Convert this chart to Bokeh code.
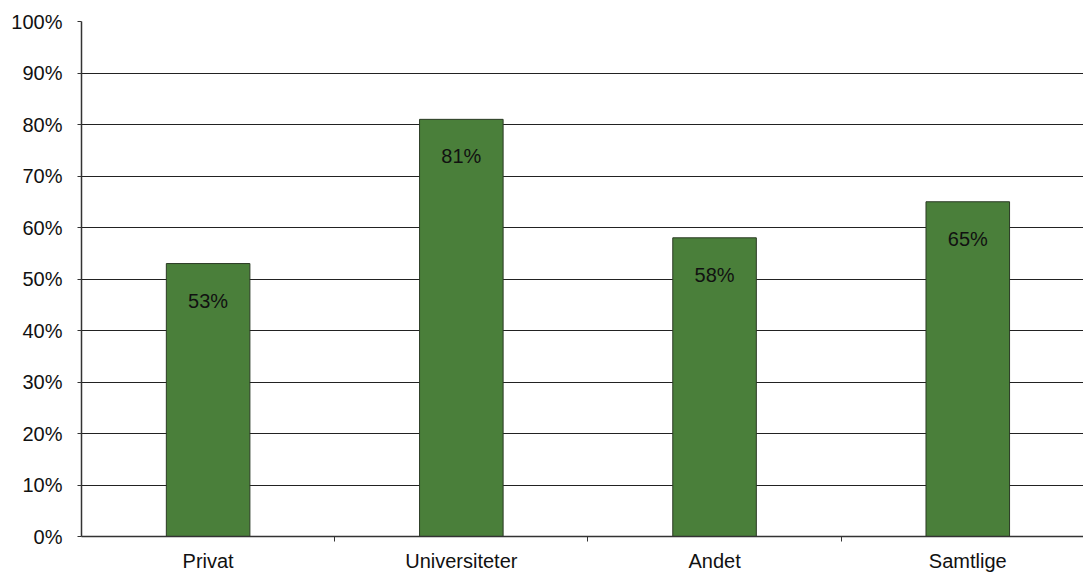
from bokeh.plotting import figure
from bokeh.models import Range1d, FixedTicker, NumeralTickFormatter, ColumnDataSource
from bokeh.embed import file_html
from bokeh.resources import INLINE
from bokeh.core.properties import value

categories = ["Privat", "Universiteter", "Andet", "Samtlige"]
shares = [0.53, 0.81, 0.58, 0.65]
y_ticks = [0.0, 0.1, 0.2, 0.3, 0.4, 0.5, 0.6, 0.7, 0.8, 0.9, 1.0]

FONT = "Liberation Sans"
BAR_COLOR = "#4a7f3a"

xs = [i + 0.5 for i in range(len(categories))]
src = ColumnDataSource(dict(
    x=xs,
    top=shares,
    label=[f"{round(v * 100)}%" for v in shares],
))

p = figure(width=1083, height=574, output_backend="svg", toolbar_location=None,
           x_range=Range1d(0, 3.957), y_range=Range1d(0, 1.0),
           min_border_left=81, min_border_right=0, min_border_top=21,
           min_border_bottom=30)
p.outline_line_color = None
p.background_fill_color = "white"
p.border_fill_color = "white"

p.vbar(x="x", top="top", width=0.33, bottom=0, source=src,
       fill_color=BAR_COLOR, line_color="#2b3a24", line_width=1)

p.text(x="x", y="top", text="label", source=src, text_align="center",
       text_baseline="middle", y_offset=37, text_font=value(FONT),
       text_font_size="20px", text_color="#111111")

# y axis: percent ticks, grid lines on every tick
p.yaxis.ticker = FixedTicker(ticks=y_ticks)
p.yaxis.formatter = NumeralTickFormatter(format="0%")
p.yaxis.major_label_text_font = FONT
p.yaxis.major_label_text_font_size = "20px"
p.yaxis.major_label_text_color = "#111111"
p.yaxis.major_tick_out = 4
p.yaxis.major_tick_in = 0
p.yaxis.minor_tick_line_color = None
p.yaxis.major_label_standoff = 15
p.yaxis.axis_line_color = "#333333"
p.yaxis.major_tick_line_color = "#333333"
p.yaxis.axis_line_width = 1.5

p.ygrid.ticker = FixedTicker(ticks=y_ticks)
p.ygrid.grid_line_color = "#222222"
p.ygrid.grid_line_width = 1
p.xgrid.grid_line_color = None

# x axis: labels centered on bars, tick marks between categories
p.xaxis.ticker = FixedTicker(ticks=xs, minor_ticks=[1, 2, 3, 4])
p.xaxis.major_label_overrides = {x: c for x, c in zip(xs, categories)}
p.xaxis.major_label_text_font = FONT
p.xaxis.major_label_text_font_size = "20px"
p.xaxis.major_label_text_color = "#111111"
p.xaxis.major_tick_line_color = None
p.xaxis.major_tick_out = 5
p.xaxis.minor_tick_out = 5
p.xaxis.minor_tick_in = 0
p.xaxis.minor_tick_line_color = "#333333"
p.xaxis.axis_line_color = "#333333"
p.xaxis.axis_line_width = 1.5
p.xaxis.major_label_standoff = 8

open("out.html", "w").write(file_html(p, INLINE))
